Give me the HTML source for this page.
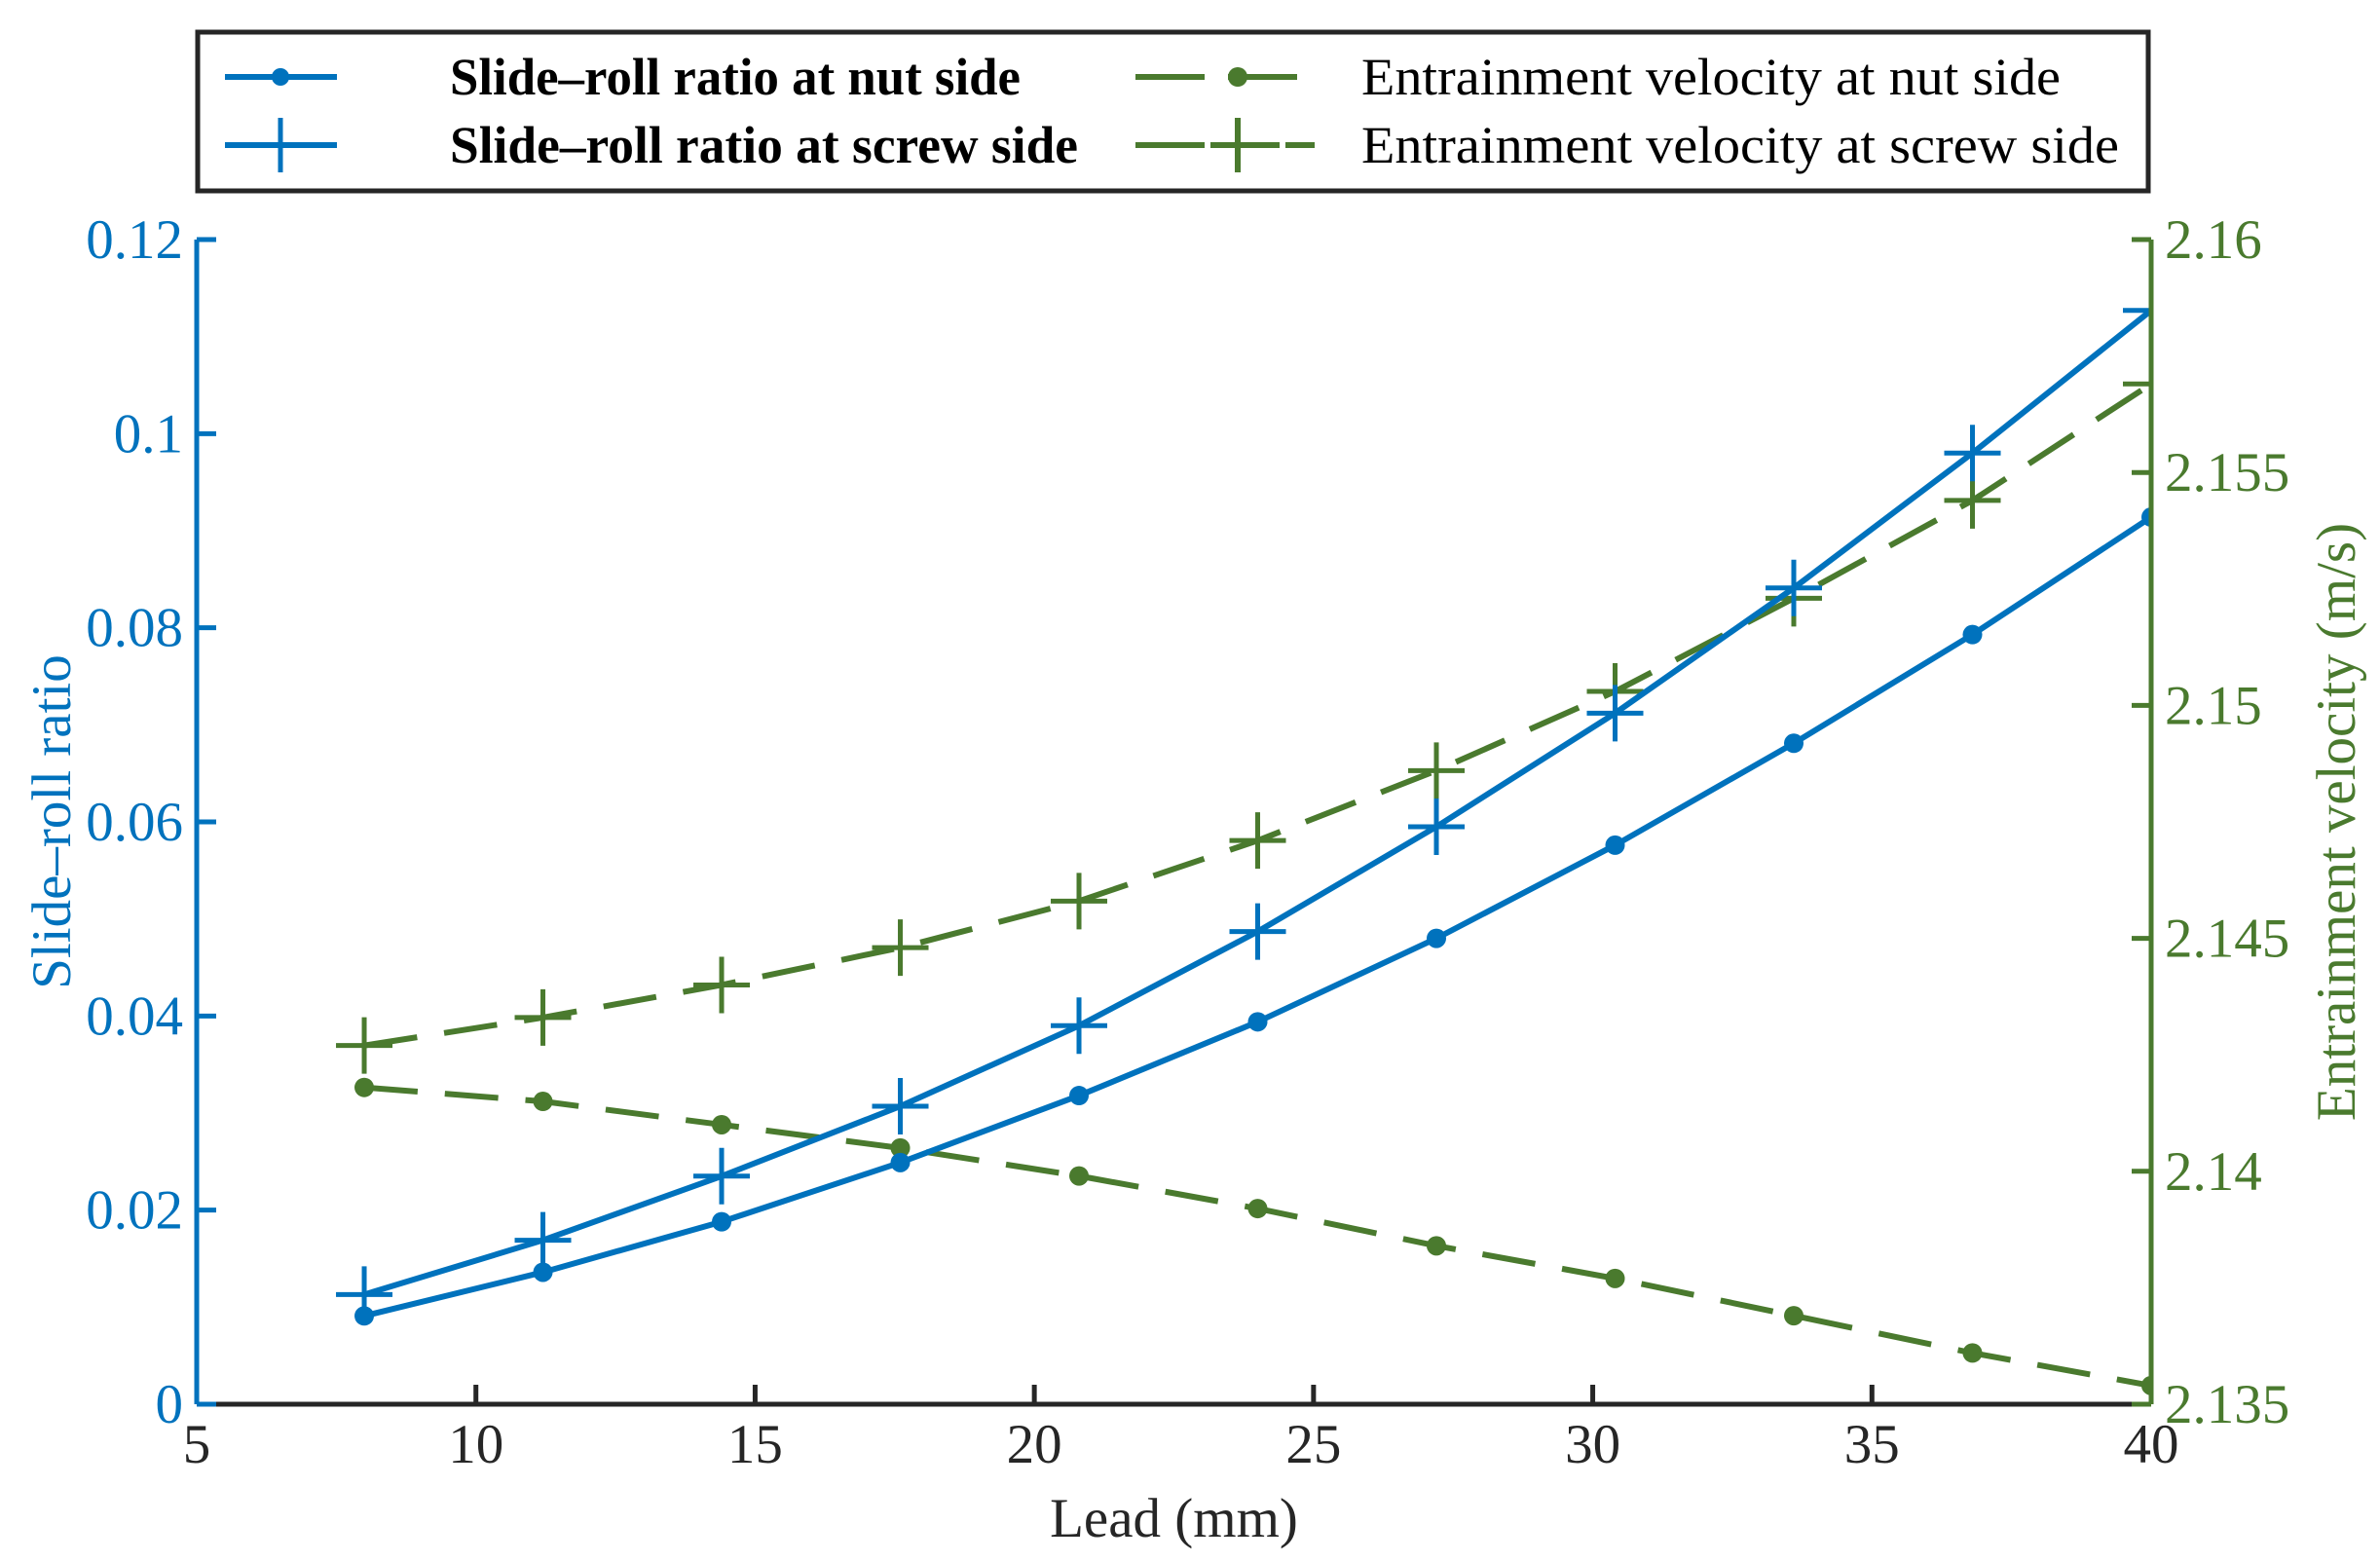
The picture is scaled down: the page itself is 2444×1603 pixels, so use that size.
<!DOCTYPE html>
<html><head><meta charset="utf-8"><style>
body{margin:0;background:#fff}
svg{display:block}
text{font-family:"Liberation Serif",serif}
</style></head><body>
<svg id="chart" width="2444" height="1603" viewBox="0 0 2444 1603">
<defs><clipPath id="pc"><rect x="202" y="200" width="2007" height="1242"/></clipPath></defs>
<g id="plot" clip-path="url(#pc)"></g>
<g id="axes"></g>
<g>
<rect x="203" y="33" width="2003" height="163" fill="#fff" stroke="#262626" stroke-width="5"/>
<g>
<line x1="231" y1="79" x2="346" y2="79" stroke="#0072BD" stroke-width="6"/><circle cx="288" cy="79" r="9" fill="#0072BD"/>
<text x="462" y="97" font-size="54" font-weight="bold" fill="#000" textLength="586" lengthAdjust="spacingAndGlyphs">Slide–roll ratio at nut side</text></g>
<g>
<line x1="231" y1="149" x2="346" y2="149" stroke="#0072BD" stroke-width="6"/><line x1="288" y1="121" x2="288" y2="177" stroke="#0072BD" stroke-width="5"/>
<text x="462" y="167" font-size="54" font-weight="bold" fill="#000" textLength="645" lengthAdjust="spacingAndGlyphs">Slide–roll ratio at screw side</text></g>
<g>
<line x1="1166" y1="79" x2="1350" y2="79" stroke="#4A7A2E" stroke-width="6" stroke-dasharray="71,24"/><circle cx="1271" cy="79" r="10" fill="#4A7A2E"/>
<text x="1398" y="97" font-size="54" fill="#000" textLength="718" lengthAdjust="spacingAndGlyphs">Entrainment velocity at nut side</text></g>
<g>
<line x1="1166" y1="149" x2="1350" y2="149" stroke="#4A7A2E" stroke-width="6" stroke-dasharray="71,6"/><line x1="1271" y1="121" x2="1271" y2="177" stroke="#4A7A2E" stroke-width="6"/>
<text x="1398" y="167" font-size="54" fill="#000" textLength="778" lengthAdjust="spacingAndGlyphs">Entrainment velocity at screw side</text></g>
</g>
</svg>
<script>
const leads=[8,11.2,14.4,17.6,20.8,24,27.2,30.4,33.6,36.8,40];
const ratioNut=[0.0091,0.0136,0.0188,0.0249,0.0318,0.0394,0.0480,0.0576,0.0681,0.0793,0.0914];
const ratioScrew=[0.0113,0.0169,0.0235,0.0307,0.0390,0.0487,0.0595,0.0712,0.0841,0.0980,0.1127];
const velNut=[2.1418,2.1415,2.1410,2.1405,2.1399,2.1392,2.1384,2.1377,2.1369,2.1361,2.1354];
const velScrew=[2.1427,2.1433,2.1440,2.1448,2.1458,2.1471,2.1486,2.1503,2.1523,2.1544,2.1569];
const xTicks=[5,10,15,20,25,30,35,40];
const yLeftTicks=[0,0.02,0.04,0.06,0.08,0.1,0.12];
const yLeftLabels=["0","0.02","0.04","0.06","0.08","0.1","0.12"];
const yRightTicks=[2.135,2.14,2.145,2.15,2.155,2.16];
const yRightLabels=["2.135","2.14","2.145","2.15","2.155","2.16"];

const L=202,R=2209,T=246,B=1442;
const BLUE="#0072BD",GREEN="#4A7A2E",DARK="#262626";
const FS=57;
const X=v=>L+(v-5)/(40-5)*(R-L);
const YL=v=>B-(v-0)/(0.12)*(B-T);
const YR=v=>B-(v-2.135)/(0.025)*(B-T);
const NS="http://www.w3.org/2000/svg";
function mk(tag,attrs,parent){const e=document.createElementNS(NS,tag);for(const k in attrs)e.setAttribute(k,attrs[k]);parent.appendChild(e);return e;}
const plot=document.getElementById('plot'),axes=document.getElementById('axes');

function series(vals,yf,color,dash,marker,name){
  const g=mk('g',{},plot);
  
  
  const pts=leads.map((x,i)=>X(x)+','+yf(vals[i])).join(' ');
  const pl=mk('polyline',{points:pts,fill:'none',stroke:color,'stroke-width':6,'stroke-dasharray':dash},g);
  
  
  leads.forEach((x,i)=>{
    const cx=X(x),cy=yf(vals[i]);
    if(marker==='dot'){
      const c=mk('circle',{cx:cx,cy:cy,r:10,fill:color},g);
      
      
    }else{
      const p=mk('path',{d:`M${cx-29},${cy}H${cx+29}M${cx},${cy-29}V${cy+29}`,stroke:color,'stroke-width':5,fill:'none'},g);
      
      
    }
  });
}
series(velNut,YR,GREEN,"55,28","dot","velocity-nut-series");
series(velScrew,YR,GREEN,"55,28","plus","velocity-screw-series");
series(ratioNut,YL,BLUE,"none","dot","ratio-nut-series");
series(ratioScrew,YL,BLUE,"none","plus","ratio-screw-series");

const xa=mk('line',{x1:L,y1:B,x2:R,y2:B,stroke:DARK,'stroke-width':5},axes);


xTicks.forEach(v=>{
  mk('line',{x1:X(v),y1:B,x2:X(v),y2:B-20,stroke:DARK,'stroke-width':5},axes);
  const t=mk('text',{x:X(v),y:B+60,'font-size':FS,'text-anchor':'middle',fill:DARK},axes);
  t.textContent=v;
  
  
});
const la=mk('line',{x1:L,y1:T,x2:L,y2:B,stroke:BLUE,'stroke-width':5},axes);


yLeftTicks.forEach((v,i)=>{
  mk('line',{x1:L,y1:YL(v),x2:L+20,y2:YL(v),stroke:BLUE,'stroke-width':5},axes);
  const t=mk('text',{x:L-14,y:YL(v)+19,'font-size':FS,'text-anchor':'end',fill:BLUE},axes);
  t.textContent=yLeftLabels[i];
  
  
});
const ra=mk('line',{x1:R,y1:T,x2:R,y2:B,stroke:GREEN,'stroke-width':5},axes);


yRightTicks.forEach((v,i)=>{
  mk('line',{x1:R,y1:YR(v),x2:R-20,y2:YR(v),stroke:GREEN,'stroke-width':5},axes);
  const t=mk('text',{x:R+14,y:YR(v)+19,'font-size':FS,'text-anchor':'start',fill:GREEN},axes);
  t.textContent=yRightLabels[i];
  
  
});
const xt=mk('text',{x:(L+R)/2,y:1578,'font-size':FS,'text-anchor':'middle',fill:DARK},axes);
xt.textContent='Lead (mm)';


const yt=mk('text',{x:0,y:0,'font-size':FS,'text-anchor':'middle',fill:BLUE,transform:`translate(72,${(T+B)/2}) rotate(-90)`},axes);
yt.textContent='Slide–roll ratio';


const yt2=mk('text',{x:0,y:0,'font-size':FS,'text-anchor':'middle',fill:GREEN,transform:`translate(2418,${(T+B)/2}) rotate(-90)`},axes);
yt2.textContent='Entrainment velocity (m/s)';


</script>
</body></html>
